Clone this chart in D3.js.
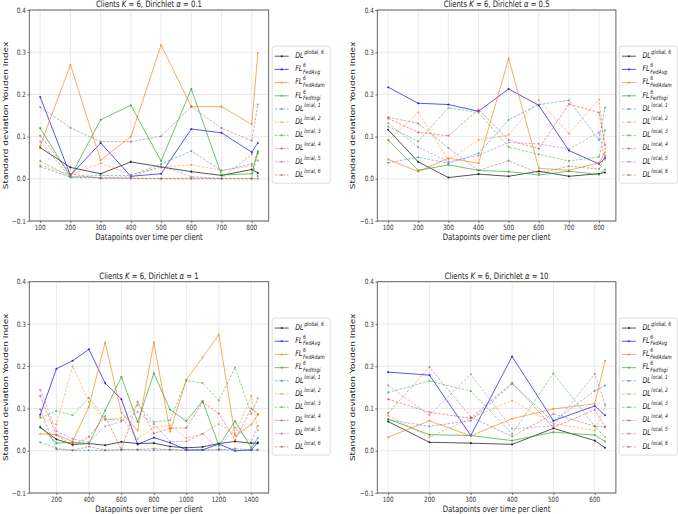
<!DOCTYPE html>
<html><head><meta charset="utf-8">
<script src="https://cdn.jsdelivr.net/npm/d3@7"></script>
<style>body{margin:0;background:#fff;} svg{display:block;font-family:"DejaVu Sans",sans-serif;}</style>
</head><body>
<script>
// ---- series definitions (order of legend) ----
const seriesMain = ["DL","FL","FL","FL","DL","DL","DL","DL","DL","DL"];
const seriesSup  = ["global, 6","6","6","6","local, 1","local, 2","local, 3","local, 4","local, 5","local, 6"];
const seriesSub  = ["","FedAvg","FedAdam","FedYogi","","","","","",""];
const seriesColors = ["#000000","#0000ff","#ff7f0e","#2ca02c","#1f77b4","#ff7f0e","#2ca02c","#d62728","#9467bd","#8c564b"];
const seriesDashed = [false,false,false,false,true,true,true,true,true,true];

// ---- panel α = 0.1 ----
const x_a01 = [100,200,300,400,500,600,700,800,820];
const y_a01 = [
  [0.074,0.027,0.012,0.040,0.028,0.017,0.008,0.022,0.014],
  [0.194,0.008,0.085,0.006,0.012,0.118,0.109,0.063,0.085],
  [0.078,0.270,0.044,0.100,0.317,0.171,0.171,0.129,0.298],
  [0.120,0.005,0.140,0.174,0.042,0.213,0.009,0.012,0.066],
  [0.029,0.004,0.008,0.008,0.035,0.066,0.019,0.035,0.006],
  [0.032,0.010,0.037,0.010,0.027,0.033,0.020,0.030,0.058],
  [0.042,0.005,0.002,0.002,0.001,0.002,0.001,0.001,0.062],
  [0.102,0.012,0.001,0.001,0.000,0.000,0.000,0.000,0.000],
  [0.088,0.003,0.003,0.004,0.030,0.005,0.001,0.059,0.043],
  [0.170,0.121,0.088,0.088,0.101,0.171,0.120,0.090,0.176]
];
const xticks_a01 = [100,200,300,400,500,600,700,800];

// ---- panel α = 0.5 ----
const x_a05 = [100,200,300,400,500,600,700,800,820];
const y_a05 = [
  [0.116,0.040,0.003,0.011,0.006,0.018,0.006,0.012,0.015],
  [0.217,0.179,0.176,0.160,0.213,0.174,0.067,0.035,0.050],
  [0.046,0.017,0.049,0.037,0.285,0.025,0.020,0.038,0.063],
  [0.092,0.020,0.033,0.020,0.017,0.009,0.018,0.010,0.022],
  [0.038,0.051,0.037,0.060,0.140,0.176,0.186,0.092,0.169],
  [0.090,0.157,0.045,0.092,0.104,0.187,0.107,0.188,0.070],
  [0.124,0.089,0.168,0.157,0.075,0.058,0.042,0.052,0.115],
  [0.143,0.110,0.102,0.164,0.092,0.071,0.177,0.157,0.080],
  [0.132,0.075,0.040,0.055,0.086,0.083,0.070,0.110,0.045],
  [0.146,0.131,0.073,0.020,0.043,0.013,0.030,0.023,0.055]
];
const xticks_a05 = [100,200,300,400,500,600,700,800];

// ---- panel α = 1 ----
const x_a1 = [100,200,300,400,500,600,700,800,900,1000,1100,1200,1300,1400,1440];
const y_a1 = [
  [0.055,0.027,0.015,0.017,0.013,0.021,0.017,0.018,0.010,0.007,0.009,0.017,0.022,0.018,0.018],
  [0.085,0.194,0.213,0.240,0.160,0.122,0.015,0.031,0.019,0.002,0.002,0.016,0.000,0.002,0.020],
  [0.040,0.038,0.022,0.104,0.256,0.090,0.048,0.256,0.045,0.168,0.221,0.275,0.035,0.062,0.085],
  [0.058,0.018,0.020,0.017,0.095,0.175,0.068,0.183,0.097,0.070,0.118,0.012,0.070,0.007,0.030],
  [0.020,0.006,0.001,0.001,0.001,0.003,0.003,0.005,0.002,0.001,0.001,0.003,0.000,0.001,0.003],
  [0.080,0.062,0.200,0.115,0.072,0.078,0.028,0.055,0.060,0.030,0.040,0.063,0.040,0.130,0.048],
  [0.078,0.094,0.084,0.125,0.075,0.072,0.108,0.068,0.072,0.166,0.160,0.119,0.197,0.087,0.124],
  [0.130,0.037,0.012,0.033,0.082,0.003,0.116,0.041,0.053,0.054,0.115,0.088,0.025,0.100,0.087],
  [0.144,0.047,0.028,0.020,0.058,0.069,0.092,0.063,0.022,0.022,0.040,0.005,0.055,0.020,0.059],
  [0.098,0.003,0.001,0.010,0.001,0.002,0.002,0.001,0.003,0.001,0.002,0.002,0.005,0.002,0.001]
];
const xticks_a1 = [200,400,600,800,1000,1200,1400];

// ---- panel α = 10 ----
const x_a10 = [100,200,300,400,500,600,625];
const y_a10 = [
  [0.069,0.020,0.018,0.015,0.053,0.024,0.007],
  [0.186,0.179,0.036,0.223,0.071,0.106,0.084],
  [0.032,0.071,0.035,0.076,0.099,0.111,0.213],
  [0.075,0.038,0.036,0.024,0.044,0.037,0.022],
  [0.073,0.058,0.071,0.158,0.069,0.142,0.154],
  [0.083,0.032,0.077,0.119,0.064,0.048,0.106],
  [0.138,0.165,0.141,0.040,0.183,0.058,0.032],
  [0.122,0.091,0.077,0.161,0.055,0.097,0.057],
  [0.155,0.084,0.181,0.052,0.059,0.182,0.110],
  [0.089,0.198,0.080,0.034,0.087,0.058,0.056]
];
const xticks_a10 = [100,200,300,400,500,600];

const yticks = [-0.1,0.0,0.1,0.2,0.3,0.4];
const alphaLabels = ["0.1","0.5","1","10"];
const xLabelText = "Datapoints over time per client";
const yLabelText = "Standard deviation Youden Index";

// ---- layout ----
const SY = 1.28; // vertical stretch of the original figure
const svg = d3.select("body").append("svg").attr("width",678).attr("height",514);

const panels = [
  {x:x_a01, y:y_a01, ticks:xticks_a01, alpha:alphaLabels[0], L:29.3, R:268.7, T:10,    B:221, ylx:7.5},
  {x:x_a05, y:y_a05, ticks:xticks_a05, alpha:alphaLabels[1], L:377.3,R:615.9, T:10,    B:221, ylx:355},
  {x:x_a1,  y:y_a1,  ticks:xticks_a1,  alpha:alphaLabels[2], L:29.3, R:268.7, T:281.7, B:493, ylx:7.5},
  {x:x_a10, y:y_a10, ticks:xticks_a10, alpha:alphaLabels[3], L:377.3,R:615.9, T:281.7, B:493, ylx:355}
];

function stretchG(parent, x, y, rot) {
  return parent.append("g").attr("transform", `translate(${x},${y}) scale(1,${SY})` + (rot ? ` rotate(${rot})` : ""));
}

panels.forEach(p => {
  const xmin = d3.min(p.x), xmax = d3.max(p.x), pad = (xmax - xmin) * 0.05;
  const xs = d3.scaleLinear().domain([xmin - pad, xmax + pad]).range([p.L, p.R]);
  const ys = d3.scaleLinear().domain([-0.1, 0.4]).range([p.B, p.T]);
  const g = svg.append("g");

  // grid
  g.append("g").selectAll("line.gx").data(p.ticks).join("line")
    .attr("x1", d => xs(d)).attr("x2", d => xs(d)).attr("y1", p.T).attr("y2", p.B)
    .attr("stroke", "#e3e3e3").attr("stroke-width", 0.8);
  g.append("g").selectAll("line.gy").data(yticks).join("line")
    .attr("x1", p.L).attr("x2", p.R).attr("y1", d => ys(d)).attr("y2", d => ys(d))
    .attr("stroke", "#e3e3e3").attr("stroke-width", 0.8);

  // axes via d3 axis (ticks only, labels custom for stretch)
  const xAxis = g.append("g").attr("transform", `translate(0,${p.B})`)
    .call(d3.axisBottom(xs).tickValues(p.ticks).tickSize(2).tickFormat(""));
  const yAxis = g.append("g").attr("transform", `translate(${p.L},0)`)
    .call(d3.axisLeft(ys).tickValues(yticks).tickSize(2).tickFormat(""));
  [xAxis, yAxis].forEach(a => { a.select(".domain").remove(); a.selectAll("line").attr("stroke", "#444").attr("stroke-width", 0.7); });

  p.ticks.forEach(t => {
    stretchG(g, xs(t), p.B + 9.4).append("text").attr("text-anchor", "middle")
      .attr("font-size", 5.7).attr("fill", "#333").text(t);
  });
  yticks.forEach(t => {
    stretchG(g, p.L - 3.5, ys(t) + 2.6).append("text").attr("text-anchor", "end")
      .attr("font-size", 5.7).attr("fill", "#333").text(t < 0 ? "\u22120.1" : d3.format(".1f")(t));
  });

  // frame
  g.append("rect").attr("x", p.L).attr("y", p.T).attr("width", p.R - p.L).attr("height", p.B - p.T)
    .attr("fill", "none").attr("stroke", "#555").attr("stroke-width", 0.9);

  // series
  const line = d3.line().x(d => xs(d[0])).y(d => ys(d[1]));
  p.y.forEach((vals, i) => {
    const pts = p.x.map((xv, j) => [xv, vals[j]]);
    g.append("path").datum(pts).attr("d", line).attr("fill", "none")
      .attr("stroke", seriesColors[i]).attr("stroke-width", seriesDashed[i] ? 0.8 : 0.95)
      .attr("stroke-opacity", seriesDashed[i] ? 0.6 : 0.7)
      .attr("stroke-dasharray", seriesDashed[i] ? "2.6,1.4" : null);
    g.append("g").selectAll("circle").data(pts).join("circle")
      .attr("cx", d => xs(d[0])).attr("cy", d => ys(d[1])).attr("r", 1.05)
      .attr("fill", seriesColors[i]).attr("fill-opacity", seriesDashed[i] ? 0.6 : 0.75);
  });

  // title
  const tt = stretchG(g, (p.L + p.R) / 2, p.T - 2.7).append("text").attr("text-anchor", "middle")
    .attr("font-size", 6.9).attr("fill", "#222");
  tt.append("tspan").text("Clients ");
  tt.append("tspan").attr("font-style", "italic").text("K");
  tt.append("tspan").text(" = 6, Dirichlet ");
  tt.append("tspan").attr("font-style", "italic").text("\u03b1");
  tt.append("tspan").text(" = " + p.alpha);

  // axis labels
  stretchG(g, (p.L + p.R) / 2, p.B + 19.2).append("text").attr("text-anchor", "middle")
    .attr("font-size", 6.9).attr("fill", "#222").text(xLabelText);
  stretchG(g, p.ylx, (p.T + p.B) / 2, -90).append("text").attr("text-anchor", "middle")
    .attr("font-size", 7).attr("fill", "#222").text(yLabelText);

  // legend
  const lx = p.R + 3.5, lh = 137, ly = (p.T + p.B) / 2 - lh / 2 - 0.8;
  const leg = g.append("g");
  leg.append("rect").attr("x", lx).attr("y", ly).attr("width", 58).attr("height", lh).attr("rx", 2)
    .attr("fill", "#fff").attr("fill-opacity", 0.85).attr("stroke", "#d0d0d0").attr("stroke-width", 0.7);
  seriesMain.forEach((m, i) => {
    const cy = ly + 10 + i * 13.2;
    leg.append("line").attr("x1", lx + 2.5).attr("x2", lx + 16.5).attr("y1", cy).attr("y2", cy)
      .attr("stroke", seriesColors[i]).attr("stroke-width", seriesDashed[i] ? 0.8 : 0.95)
      .attr("stroke-opacity", seriesDashed[i] ? 0.6 : 0.7)
      .attr("stroke-dasharray", seriesDashed[i] ? "2.6,1.4" : null);
    leg.append("circle").attr("cx", lx + 9.5).attr("cy", cy).attr("r", 1.05)
      .attr("fill", seriesColors[i]).attr("fill-opacity", 0.7);
    const tg = stretchG(leg, lx + 23, cy + 1.7);
    const mt = tg.append("text").attr("font-size", 6.3).attr("font-style", "italic").attr("fill", "#222").text(m);
    const w = mt.node().getComputedTextLength() + 0.6;
    tg.append("text").attr("x", w).attr("y", -3.1).attr("font-size", 4.6).attr("font-style", "italic")
      .attr("fill", "#222").text(seriesSup[i]);
    if (seriesSub[i]) {
      tg.append("text").attr("x", w).attr("y", 1.9).attr("font-size", 4.6).attr("font-style", "italic")
        .attr("fill", "#222").text(seriesSub[i]);
    }
  });
});
</script>
</body></html>
